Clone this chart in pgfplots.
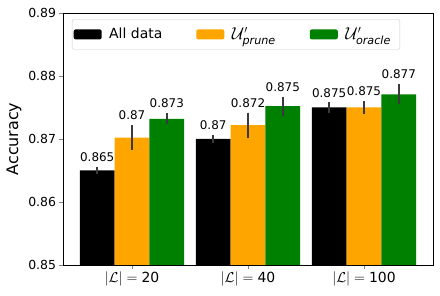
\documentclass[border=0pt]{standalone}
\usepackage{amsmath}
\usepackage{fontspec}
\setmainfont{DejaVu Sans}
\usepackage{pgfplots}
\pgfplotsset{compat=1.18}
\definecolor{mplorange}{HTML}{FFA500}
\definecolor{mplgreen}{HTML}{008000}
\definecolor{errgray}{HTML}{3A3A3A}
\begin{document}
\begin{tikzpicture}
\begin{axis}[
  at={(0,0)}, anchor=south west,
  scale only axis, width=370bp, height=252bp,
  xmin=-0.595, xmax=2.595, ymin=0.85, ymax=0.89,
  xtick={0,1,2},
  xticklabels={{$|\mathcal{L}| = \text{20}$},{$|\mathcal{L}| = \text{40}$},{$|\mathcal{L}| = \text{100}$}},
  ytick={0.85,0.86,0.87,0.88,0.89},
  yticklabel style={font=\fontsize{12.5}{14}\selectfont},
  yticklabel style={/pgf/number format/.cd, fixed, fixed zerofill, precision=2, assume math mode=true},
  xticklabel style={font=\fontsize{14}{16}\selectfont},
  tick align=outside, tick pos=left, major tick length=3.5bp,
  ylabel={Accuracy}, ylabel style={font=\fontsize{16}{18}\selectfont, yshift=0bp},
  bar width=0.3, bar shift=0pt,
  legend columns=3,
  legend cell align=left,
  legend image code/.code={\fill[#1] (0bp,-5bp) rectangle (28bp,5bp);},
  legend style={at={(0.0243,0.975)}, anchor=north west, draw=black!20, rounded corners=2bp,
    font=\fontsize{14}{16}\selectfont, inner xsep=1.5bp, inner ysep=6bp,
    /tikz/every odd column/.append style={column sep=0bp},
    /tikz/every even column/.append style={column sep=26.5bp},
    nodes={inner xsep=7.5bp}},
  error bars/error bar style={line width=1.5pt, color=errgray},
  error bars/error mark=none,
]
\addplot[ybar, fill=black, draw=none, error bars/.cd, y dir=both, y explicit]
  coordinates {(-0.3,0.865) +- (0,0.0006) (0.7,0.870) +- (0,0.0006) (1.7,0.875) +- (0,0.0008)};
\addlegendentry{All data}
\addplot[ybar, fill=mplorange, draw=none, error bars/.cd, y dir=both, y explicit]
  coordinates {(0,0.8702) +- (0,0.002) (1,0.8722) +- (0,0.002) (2,0.875) +- (0,0.001)};
\addlegendentry{\fontsize{16}{18}\selectfont$\mathcal{U}'_{\textit{prune}}$}
\addplot[ybar, fill=mplgreen, draw=none, error bars/.cd, y dir=both, y explicit]
  coordinates {(0.3,0.8732) +- (0,0.00085) (1.3,0.8752) +- (0,0.0015) (2.3,0.8771) +- (0,0.0016)};
\addlegendentry{\fontsize{16}{18}\selectfont$\mathcal{U}'_{\textit{oracle}}$}
\addplot[forget plot, only marks, mark=*, mark size=0pt, mark options={draw=none, fill=none},
  nodes near coords, point meta=explicit symbolic,
  nodes near coords style={anchor=south, inner sep=0pt, yshift=5bp, font=\fontsize{12}{14}\selectfont, text=black}]
  coordinates {
  (-0.3,0.8656) [0.865] (0.7,0.8706) [0.87] (1.7,0.8758) [0.875]
  (0,0.8722) [0.87] (1,0.8742) [0.872] (2,0.876) [0.875]
  (0.3,0.8741) [0.873] (1.3,0.8767) [0.875] (2.3,0.8787) [0.877]
  };
\end{axis}
\path (-63bp,-31bp) rectangle (377bp,265bp);
\end{tikzpicture}
\end{document}
